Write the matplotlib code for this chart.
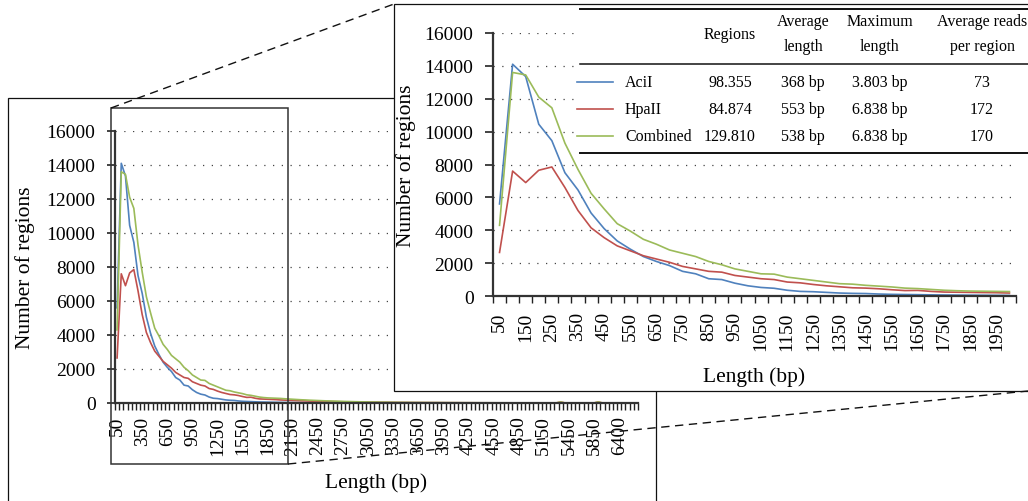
import matplotlib
matplotlib.use('Agg')
import matplotlib.pyplot as plt
import numpy as np
from matplotlib.patches import Rectangle
from matplotlib.lines import Line2D

plt.rcParams['font.family'] = ['Liberation Serif', 'DejaVu Serif']

# length bins (bp); regular 50 bp bins, then the sparse tail
bins = list(range(50, 5500, 50)) + [5500, 5600, 5650, 5700, 5800, 5850, 5900, 6000,
                                    6100, 6200, 6300, 6400, 6500, 6600, 6700, 6850]

# 50 .. 2000 bp
aci_head = [5600, 14100, 13350, 10450, 9450, 7500, 6450, 5050, 4100, 3350,
            2850, 2400, 2100, 1850, 1500, 1350, 1050, 1000, 780, 620,
            520, 470, 350, 280, 260, 220, 180, 160, 150, 120,
            100, 90, 80, 70, 60, 55, 50, 45, 40, 35]
hpa_head = [2650, 7600, 6900, 7650, 7850, 6600, 5200, 4150, 3550, 3050,
            2750, 2450, 2250, 2050, 1800, 1650, 1500, 1450, 1250, 1150,
            1050, 1000, 850, 800, 700, 620, 560, 500, 480, 440,
            380, 330, 340, 280, 240, 230, 220, 210, 200, 180]
comb_head = [4300, 13600, 13450, 12100, 11450, 9300, 7700, 6250, 5300, 4400,
             3950, 3450, 3150, 2800, 2600, 2400, 2100, 1900, 1650, 1500,
             1350, 1330, 1150, 1050, 950, 850, 750, 720, 650, 600,
             550, 480, 450, 400, 350, 320, 300, 290, 280, 270]

# 2050 bp .. 6850 bp
aci_tail = [32, 30, 27, 25, 22, 20, 18, 16, 15, 13,
            12, 11, 10, 9, 8, 7, 6, 6, 5, 5,
            4, 4, 3, 3, 3, 2, 2, 2, 2, 1,
            1, 1, 1, 1, 1, 1, 1] + [0] * 48
hpa_tail = [170, 160, 150, 140, 130, 125, 115, 105, 100, 95,
            90, 85, 80, 75, 70, 65, 62, 58, 55, 52,
            50, 47, 44, 42, 40, 38, 36, 34, 32, 30,
            28, 27, 26, 25, 24, 23, 22, 21, 20, 19,
            18, 17, 16, 15, 15, 14, 13, 12, 12, 11,
            11, 10, 10, 9, 9, 8, 8, 7, 7, 7,
            6, 6, 6, 5, 5, 5, 60, 5, 5,
            4, 4, 3, 3, 3, 3, 60, 3, 2, 2, 2, 2, 2, 1, 1, 1]
comb_tail = [250, 235, 220, 205, 190, 180, 165, 155, 145, 135,
             125, 118, 110, 102, 95, 88, 82, 76, 70, 65,
             60, 56, 52, 49, 46, 43, 40, 37, 35, 33,
             31, 29, 28, 27, 25, 24, 23, 22, 21, 20,
             19, 18, 17, 16, 16, 15, 14, 13, 13, 12,
             12, 11, 11, 10, 10, 9, 9, 8, 8, 8,
             7, 7, 7, 6, 6, 6, 60, 6, 6,
             5, 5, 4, 4, 4, 4, 60, 4, 3, 3, 3, 3, 3, 2, 2, 2]

aci = aci_head + aci_tail
hpa = hpa_head + hpa_tail
comb = comb_head + comb_tail

series = ['AciI', 'HpaII', 'Combined']
colors = ['#4F81BD', '#C0504D', '#9BBB59']
regions = ['98.355', '84.874', '129.810']
avg_len = ['368 bp', '553 bp', '538 bp']
max_len = ['3.803 bp', '6.838 bp', '6.838 bp']
avg_reads = ['73', '172', '170']

W, H = 1028, 502
fig = plt.figure(figsize=(W / 100, H / 100), dpi=100)


def fx(px):
    return px / W


def fy(py):
    return 1 - py / H


def style_axes(ax, n, every, pad):
    ax.set_xlim(-0.5, n - 0.5)
    ax.set_ylim(0, 16000)
    ax.set_yticks(range(0, 16001, 2000))
    ax.set_xticks(range(0, n, every))
    ax.set_xticklabels([str(b) for b in bins[0:n:every]], rotation=90)
    ax.set_xticks(np.arange(-0.5, n, 1), minor=True)
    ax.tick_params(axis='x', which='major', length=0, pad=pad, labelsize=14)
    ax.tick_params(axis='x', which='minor', length=5, width=1, color='#222222')
    ax.tick_params(axis='y', length=6, width=1.2, pad=8, labelsize=14, color='#222222')
    for s in ['top', 'right']:
        ax.spines[s].set_visible(False)
    for s in ['left', 'bottom']:
        ax.spines[s].set_linewidth(1.6)
        ax.spines[s].set_color('#333333')
    ax.yaxis.grid(True, linestyle=(0, (1, 6)), color='#444444', linewidth=0.9)
    ax.set_axisbelow(True)
    ax.patch.set_alpha(0)


# main chart frame
fig.add_artist(Rectangle((fx(8), fy(520)), (656 - 8) / W, (520 - 99) / H,
                         transform=fig.transFigure, facecolor='white',
                         edgecolor='#111111', linewidth=0.9, zorder=-1))

ax = fig.add_axes([fx(115), fy(404), (638 - 115) / W, (404 - 132) / H])
n_main = len(bins)
for vals, c in zip([aci, hpa, comb], colors):
    ax.plot(range(n_main), vals, color=c, linewidth=1.2)
style_axes(ax, n_main, 6, 9)
ax.set_xlabel('Length (bp)', fontsize=15.5)
ax.set_ylabel('Number of regions', fontsize=15.5)
ax.xaxis.set_label_coords(0.5, (404 - 483) / 272)
ax.xaxis.label.set_va('center')
ax.yaxis.set_label_coords((25 - 115) / 523, 0.5)
ax.yaxis.label.set_va('center')

# zoom highlight box
fig.add_artist(Rectangle((fx(111), fy(465)), (288 - 111) / W, (465 - 109) / H,
                         transform=fig.transFigure, fill=False,
                         edgecolor='#333333', linewidth=1.1, zorder=1))

# inset frame
fig.add_artist(Rectangle((fx(394), fy(392)), (1040 - 394) / W, (392 - 5) / H,
                         transform=fig.transFigure, facecolor='white',
                         edgecolor='#111111', linewidth=0.9, zorder=3))

n_in = len(aci_head)
axi = fig.add_axes([fx(493), fy(297), (1016 - 493) / W, (297 - 34) / H], zorder=4)
for vals, c in zip([aci_head, hpa_head, comb_head], colors):
    axi.plot(range(n_in), vals, color=c, linewidth=1.2)
style_axes(axi, n_in, 2, 11)
axi.set_xlabel('Length (bp)', fontsize=15.5)
axi.set_ylabel('Number of regions', fontsize=15.5)
axi.xaxis.set_label_coords(0.5, (297 - 377) / 263)
axi.xaxis.label.set_va('center')
axi.yaxis.set_label_coords((406 - 493) / 523, 0.5)
axi.yaxis.label.set_va('center')

# table with legend
fig.add_artist(Rectangle((fx(580), fy(154)), (1040 - 580) / W, (154 - 10) / H,
                         transform=fig.transFigure, facecolor='white',
                         edgecolor='none', zorder=5))
for py, lw in [(10, 1.4), (65, 1.1), (154, 1.4)]:
    fig.add_artist(Line2D([fx(580), fx(1030)], [fy(py), fy(py)], color='#111111',
                          linewidth=lw, zorder=6))

tk = dict(fontsize=11.5, ha='center', va='center', zorder=6)
fig.text(fx(730), fy(35), 'Regions', **tk)
fig.text(fx(803), fy(22), 'Average', **tk)
fig.text(fx(803), fy(47), 'length', **tk)
fig.text(fx(880), fy(22), 'Maximum', **tk)
fig.text(fx(880), fy(47), 'length', **tk)
fig.text(fx(982), fy(22), 'Average reads', **tk)
fig.text(fx(982), fy(47), 'per region', **tk)

row_y = [83, 110, 137]
for i, name in enumerate(series):
    py = row_y[i]
    fig.add_artist(Line2D([fx(577), fx(613)], [fy(py), fy(py)], color=colors[i],
                          linewidth=1.2, zorder=6))
    fig.text(fx(625), fy(py), name, fontsize=11.5, ha='left', va='center', zorder=6)
    fig.text(fx(730), fy(py), regions[i], **tk)
    fig.text(fx(803), fy(py), avg_len[i], **tk)
    fig.text(fx(880), fy(py), max_len[i], **tk)
    fig.text(fx(982), fy(py), avg_reads[i], **tk)

# dashed connectors
fig.add_artist(Line2D([fx(111), fx(394)], [fy(109), fy(5)], color='#111111',
                      linewidth=1, linestyle=(0, (6, 4)), zorder=7))
fig.add_artist(Line2D([fx(288), fx(1028)], [fy(465), fy(392)], color='#111111',
                      linewidth=1, linestyle=(0, (6, 4)), zorder=7))

fig.savefig('out.png', dpi=100)
